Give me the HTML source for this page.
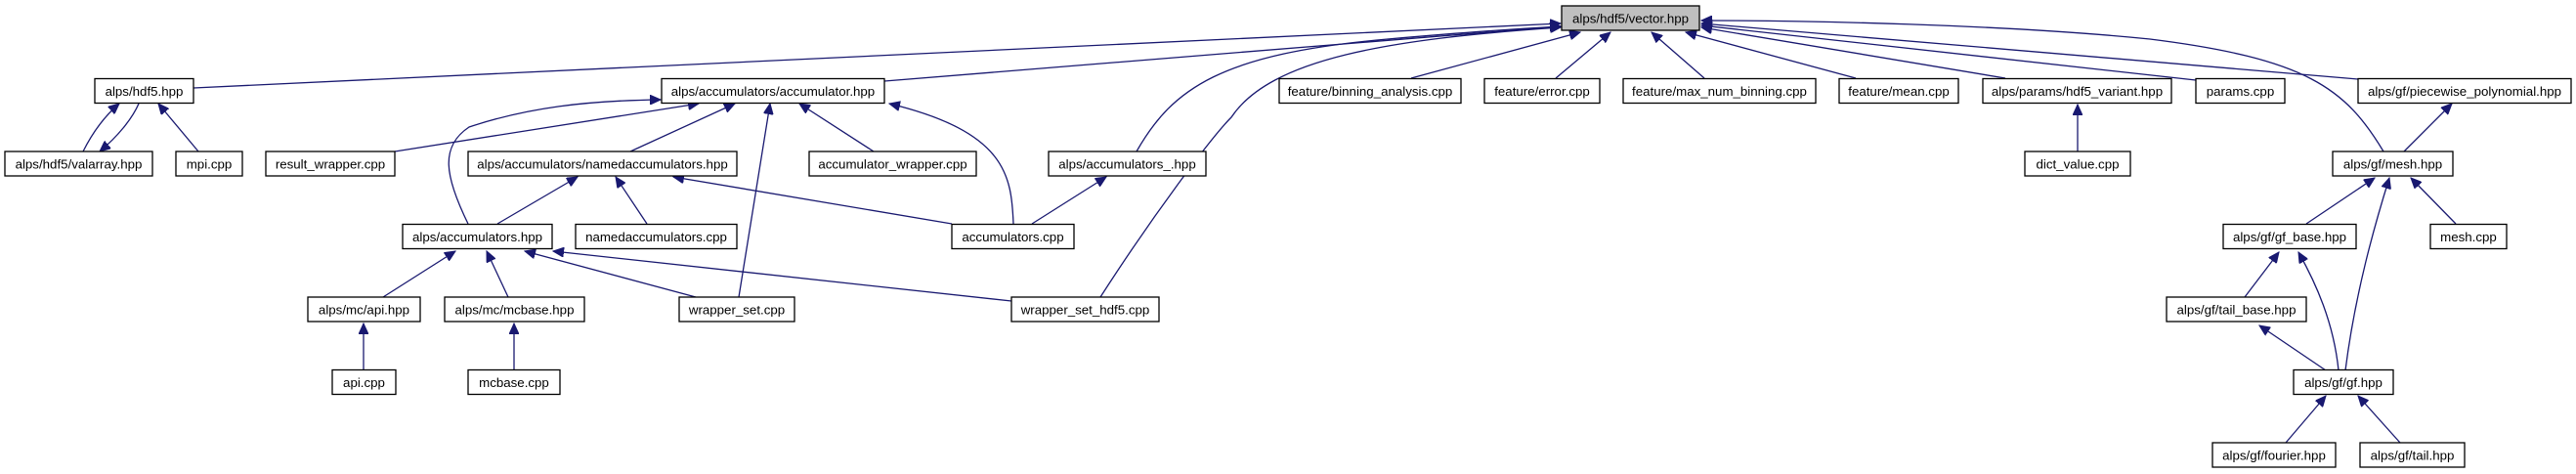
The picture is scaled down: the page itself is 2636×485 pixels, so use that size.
<!DOCTYPE html>
<html><head><meta charset="utf-8"><style>
html,body{margin:0;padding:0;background:#fff;}
svg{display:block;}
text{font-family:"Liberation Sans",sans-serif;font-size:13.3px;fill:#000;text-anchor:middle;}
.e{stroke:#191970;stroke-width:1.3;fill:none;marker-end:url(#a);}
.b{fill:#fff;stroke:#000;stroke-width:1.3;}
</style></head><body>
<svg width="2636" height="485" viewBox="0 0 2636 485" xmlns="http://www.w3.org/2000/svg">
<defs><marker id="a" markerUnits="userSpaceOnUse" markerWidth="12" markerHeight="10" refX="11" refY="5" orient="auto"><path d="M0,0 L11,5 L0,10 Z" fill="#191970" stroke="#191970"/></marker></defs>
<!-- edges to vector -->
<path class="e" d="M198,90 L1597,24"/>
<path class="e" d="M905,83 L1597,27"/>
<path class="e" d="M1163,155 C1200,90 1250,55 1420,40 C1500,33 1560,29 1597,27"/>
<path class="e" d="M1126,304 C1180,220 1240,140 1260,120 C1300,60 1420,40 1597,28"/>
<path class="e" d="M1444,80 L1617,33"/>
<path class="e" d="M1592,80 L1648,33"/>
<path class="e" d="M1744,80 L1690,33"/>
<path class="e" d="M1899,80 L1725,33"/>
<path class="e" d="M2052,80 L1741,28"/>
<path class="e" d="M2247,82 L1741,26"/>
<path class="e" d="M2413,81 L1741,24"/>
<path class="e" d="M2439,155 C2400,90 2360,60 2200,40 C2050,25 1850,21 1741,21"/>
<!-- hdf5 -->
<path class="e" d="M85,155 C95,135 108,118 122,106"/>
<path class="e" d="M142,106 C135,122 120,140 102,155"/>
<path class="e" d="M203,155 L162,106"/>
<!-- accumulator.hpp -->
<path class="e" d="M404,155 L715,106"/>
<path class="e" d="M479,229 C455,180 450,150 480,130 C540,110 600,103 676,102"/>
<path class="e" d="M645,155 L752,106"/>
<path class="e" d="M756,304 L788,106"/>
<path class="e" d="M894,155 L818,106"/>
<path class="e" d="M1037,229 C1035,180 1030,135 910,106"/>
<!-- named -->
<path class="e" d="M509,229 L591,181"/>
<path class="e" d="M662,229 L630,181"/>
<path class="e" d="M974,229 L689,181"/>
<path class="e" d="M1056,229 L1132,181"/>
<!-- accumulators.hpp -->
<path class="e" d="M392,304 L466,257"/>
<path class="e" d="M520,304 L498,257"/>
<path class="e" d="M712,304 L537,257"/>
<path class="e" d="M1035,308 L566,257"/>
<path class="e" d="M372,378 L372,331"/>
<path class="e" d="M526,378 L526,331"/>
<!-- right side -->
<path class="e" d="M2126,155 L2126,107"/>
<path class="e" d="M2460,155 L2509,106"/>
<path class="e" d="M2360,229 L2430,182"/>
<path class="e" d="M2400,379 C2410,300 2430,230 2445,182"/>
<path class="e" d="M2513,229 L2467,182"/>
<path class="e" d="M2297,304 L2332,258"/>
<path class="e" d="M2393,379 C2388,330 2370,290 2352,258"/>
<path class="e" d="M2380,379 L2312,333"/>
<path class="e" d="M2339,453 L2380,405"/>
<path class="e" d="M2456,453 L2413,405"/>
<!-- nodes -->
<g>
<rect x="1598" y="6" width="141" height="25" fill="#bfbfbf" stroke="#000" stroke-width="1.3"/><text x="1668.5" y="23.5">alps/hdf5/vector.hpp</text>
<rect class="b" x="97" y="80.5" width="101" height="25"/><text x="147.5" y="98">alps/hdf5.hpp</text>
<rect class="b" x="677" y="80.5" width="228" height="25"/><text x="791" y="98">alps/accumulators/accumulator.hpp</text>
<rect class="b" x="1309" y="80.5" width="186" height="25"/><text x="1402" y="98">feature/binning_analysis.cpp</text>
<rect class="b" x="1519" y="80.5" width="118" height="25"/><text x="1578" y="98">feature/error.cpp</text>
<rect class="b" x="1661" y="80.5" width="197" height="25"/><text x="1759.5" y="98">feature/max_num_binning.cpp</text>
<rect class="b" x="1882" y="80.5" width="122" height="25"/><text x="1943" y="98">feature/mean.cpp</text>
<rect class="b" x="2029" y="80.5" width="193" height="25"/><text x="2125.5" y="98">alps/params/hdf5_variant.hpp</text>
<rect class="b" x="2247" y="80.5" width="91" height="25"/><text x="2292.5" y="98">params.cpp</text>
<rect class="b" x="2413" y="80.5" width="218" height="25"/><text x="2522" y="98">alps/gf/piecewise_polynomial.hpp</text>

<rect class="b" x="5" y="155" width="151" height="25"/><text x="80.5" y="172.5">alps/hdf5/valarray.hpp</text>
<rect class="b" x="180" y="155" width="68" height="25"/><text x="214" y="172.5">mpi.cpp</text>
<rect class="b" x="272" y="155" width="132" height="25"/><text x="338" y="172.5">result_wrapper.cpp</text>
<rect class="b" x="479" y="155" width="275" height="25"/><text x="616.5" y="172.5">alps/accumulators/namedaccumulators.hpp</text>
<rect class="b" x="828" y="155" width="171" height="25"/><text x="913.5" y="172.5">accumulator_wrapper.cpp</text>
<rect class="b" x="1073" y="155" width="161" height="25"/><text x="1153.5" y="172.5">alps/accumulators_.hpp</text>
<rect class="b" x="2072" y="155" width="108" height="25"/><text x="2126" y="172.5">dict_value.cpp</text>
<rect class="b" x="2387" y="155" width="123" height="25"/><text x="2448.5" y="172.5">alps/gf/mesh.hpp</text>

<rect class="b" x="412" y="229.5" width="153" height="25"/><text x="488.5" y="247">alps/accumulators.hpp</text>
<rect class="b" x="589" y="229.5" width="165" height="25"/><text x="671.5" y="247">namedaccumulators.cpp</text>
<rect class="b" x="974" y="229.5" width="125" height="25"/><text x="1036.5" y="247">accumulators.cpp</text>
<rect class="b" x="2275" y="229.5" width="136" height="25"/><text x="2343" y="247">alps/gf/gf_base.hpp</text>
<rect class="b" x="2487" y="229.5" width="78" height="25"/><text x="2526" y="247">mesh.cpp</text>

<rect class="b" x="315" y="304" width="115" height="25"/><text x="372.5" y="321.5">alps/mc/api.hpp</text>
<rect class="b" x="455" y="304" width="143" height="25"/><text x="526.5" y="321.5">alps/mc/mcbase.hpp</text>
<rect class="b" x="695" y="304" width="118" height="25"/><text x="754" y="321.5">wrapper_set.cpp</text>
<rect class="b" x="1035" y="304" width="151" height="25"/><text x="1110.5" y="321.5">wrapper_set_hdf5.cpp</text>
<rect class="b" x="2217" y="304" width="143" height="25"/><text x="2288.5" y="321.5">alps/gf/tail_base.hpp</text>

<rect class="b" x="340" y="378.5" width="65" height="25"/><text x="372.5" y="396">api.cpp</text>
<rect class="b" x="479" y="378.5" width="94" height="25"/><text x="526" y="396">mcbase.cpp</text>
<rect class="b" x="2347" y="378.5" width="102" height="25"/><text x="2398" y="396">alps/gf/gf.hpp</text>

<rect class="b" x="2264" y="453" width="126" height="25"/><text x="2327" y="470.5">alps/gf/fourier.hpp</text>
<rect class="b" x="2415" y="453" width="107" height="25"/><text x="2468.5" y="470.5">alps/gf/tail.hpp</text>
</g>
</svg>
</body></html>
